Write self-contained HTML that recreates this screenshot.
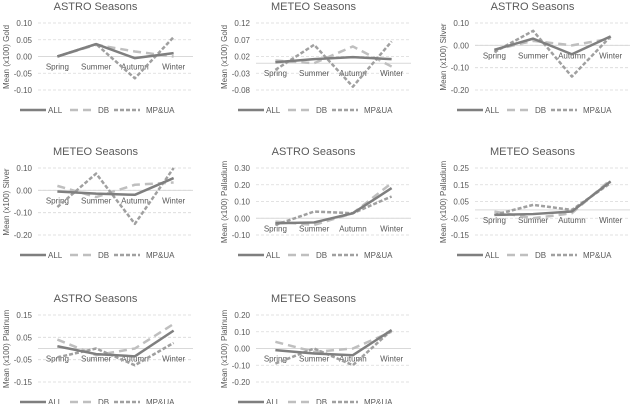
<!DOCTYPE html>
<html><head><meta charset="utf-8"><style>
html,body{margin:0;padding:0;background:#fff;}
svg{display:block;font-family:"Liberation Sans",sans-serif;}
</style></head><body>
<svg id="c" width="635" height="404"></svg>
<script>
const categories=["Spring","Summer","Autumn","Winter"];
const titles=["ASTRO Seasons","METEO Seasons","ASTRO Seasons","METEO Seasons","ASTRO Seasons","METEO Seasons","ASTRO Seasons","METEO Seasons"];
const yTitles=["Mean (x100) Gold","Mean (x100) Gold","Mean (x100) Silver","Mean (x100) Silver","Mean (x100) Palladium","Mean (x100) Palladium","Mean (x100) Platinum","Mean (x100) Platinum"];
const yTicks=[[0.10,0.05,0.00,-0.05,-0.10],[0.12,0.07,0.02,-0.03,-0.08],[0.10,0.00,-0.10,-0.20],[0.10,0.00,-0.10,-0.20],[0.30,0.20,0.10,0.00,-0.10],[0.25,0.15,0.05,-0.05,-0.15],[0.15,0.05,-0.05,-0.15],[0.20,0.10,0.00,-0.10,-0.20]];
const allSeries=[[0,0.037,-0.005,0.01],[0.003,0.012,0.018,0.012],[-0.02,0.03,-0.04,0.04],[-0.005,-0.015,-0.02,0.055],[-0.03,-0.025,0.03,0.18],[-0.03,-0.025,-0.01,0.17],[0.01,-0.025,-0.035,0.08],[-0.01,-0.03,-0.04,0.11]];
const dbSeries=[[0,0.035,0.015,0],[0.008,0,0.05,-0.01],[-0.02,0.02,0,0.03],[0.02,-0.03,0.025,0.035],[-0.02,-0.04,0.03,0.21],[-0.01,-0.05,-0.02,0.18],[0.04,-0.03,0,0.11],[0.04,-0.02,0,0.10]];
const mpSeries=[[0,0.037,-0.065,0.058],[-0.02,0.055,-0.07,0.065],[-0.03,0.065,-0.14,0.04],[-0.075,0.075,-0.15,0.10],[-0.04,0.04,0.03,0.13],[-0.03,0.03,0,0.16],[-0.04,0,-0.075,0.025],[-0.09,0,-0.10,0.11]];

const NS="http://www.w3.org/2000/svg";
const svg=document.getElementById('c');
function mk(tag,attrs,parent){const e=document.createElementNS(NS,tag);for(const k in attrs)e.setAttribute(k,attrs[k]);(parent||svg).appendChild(e);return e;}
const colLeft=[38,256,475], rowTop=[0,145,292], plotW=155, gridTop=23, gridBot=90;
const TXT="#595959";
for(let p=0;p<8;p++){
  const c=p%3, r=Math.floor(p/3);
  const L=colLeft[c], T=rowTop[r];
  const g=mk('g',{});
  
  
  const ticks=yTicks[p], tmax=ticks[0], tmin=ticks[ticks.length-1];
  const y=v=>T+gridTop+(tmax-v)/(tmax-tmin)*(gridBot-gridTop);
  const x=i=>L+plotW*(i+0.5)/4;
  const t=mk('text',{x:L+plotW/2-20,y:T+10,'text-anchor':'middle','font-size':11,fill:TXT},g);
  t.textContent=titles[p];
  
  
  ticks.forEach(v=>{
    const gl=mk('line',{x1:L,x2:L+plotW,y1:y(v),y2:y(v),stroke:'#d9d9d9','stroke-width':0.8,'stroke-dasharray':'3,2'},g);
    
    
    const tl=mk('text',{x:L-6,y:y(v)+3,'text-anchor':'end','font-size':8,fill:TXT},g);
    tl.textContent=v.toFixed(2);
    
    
  });
  const zl=mk('line',{x1:L,x2:L+plotW,y1:y(0),y2:y(0),stroke:'#d9d9d9','stroke-width':1},g);
  
  
  const yt=mk('text',{x:0,y:0,transform:`translate(${L-29},${T+57}) rotate(-90)`,'text-anchor':'middle','font-size':8,fill:TXT},g);
  yt.textContent=yTitles[p];
  
  
  categories.forEach((cat,i)=>{
    const cl=mk('text',{x:x(i),y:y(0)+13,'text-anchor':'middle','font-size':8,fill:TXT},g);
    cl.textContent=cat;
    
    
  });
  const styles=[
    {d:dbSeries[p],stroke:'#bfbfbf',dash:'8,5',name:'db-line'},
    {d:mpSeries[p],stroke:'#a0a0a0',dash:'4,2',name:'mpua-line'},
    {d:allSeries[p],stroke:'#7f7f7f',dash:'',name:'all-line'}];
  styles.forEach(s=>{
    const pts=s.d.map((v,i)=>x(i)+','+y(v)).join(' ');
    const pl=mk('polyline',{points:pts,fill:'none',stroke:s.stroke,'stroke-width':2.5,'stroke-dasharray':s.dash,'stroke-linejoin':'round'},g);
    
    
  });
  const ly=T+110;
  const leg=[{lbl:'ALL',stroke:'#7f7f7f',dash:'',dx:-18},{lbl:'DB',stroke:'#bfbfbf',dash:'8,5',dx:32},{lbl:'MP&UA',stroke:'#a0a0a0',dash:'4,2',dx:76}];
  leg.forEach(e=>{
    const lg=mk('g',{},g);
    
    
    mk('line',{x1:L+e.dx,x2:L+e.dx+26,y1:ly,y2:ly,stroke:e.stroke,'stroke-width':2.5,'stroke-dasharray':e.dash},lg);
    const lt=mk('text',{x:L+e.dx+28+(e.lbl==='MP&UA'?4:0),y:ly+3,'font-size':8,fill:TXT},lg);
    lt.textContent=e.lbl;
  });
}
</script>
</body></html>
